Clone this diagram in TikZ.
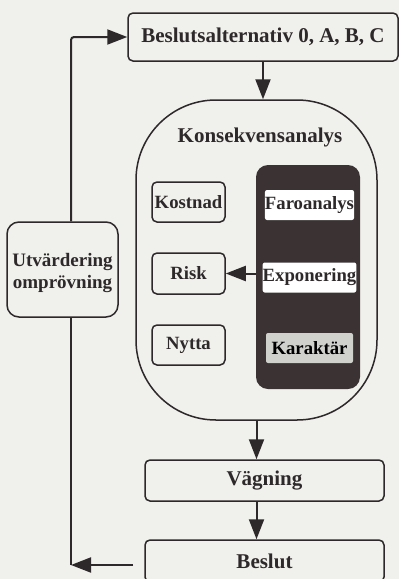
\documentclass[tikz,border=0pt]{standalone}
\usepackage{fontspec}
\setmainfont{Liberation Serif}
\usetikzlibrary{arrows.meta}
\definecolor{bg}{RGB}{240,240,236}
\definecolor{ink}{RGB}{45,40,41}
\definecolor{panelc}{RGB}{58,50,51}
\definecolor{karfill}{RGB}{208,208,204}
\begin{document}
\begin{tikzpicture}[x=1pt,y=-1pt,
  every node/.style={font=\bfseries\fontsize{21}{23}\selectfont, text=ink, inner sep=0pt, align=center},
  bigbox/.style={draw=ink, line width=1.5pt, rounded corners=5pt},
  smallfont/.style={font=\bfseries\fontsize{18.7}{21}\selectfont},
  smallbox/.style={bigbox, smallfont, minimum width=73pt},
  innerbox/.style={smallfont, minimum width=87pt, minimum height=30pt, rounded corners=2pt},
  arr/.style={draw=ink, line width=2pt, -{Triangle[length=20pt,width=15pt]}},
  conn/.style={draw=ink, line width=2pt}]
\fill[bg] (0,0) rectangle (399,579);
\useasboundingbox (0,0) rectangle (399,579);

% top box
\node[bigbox, minimum width=270pt, minimum height=48pt] (top) at (263,37) {Beslutsalternativ 0, A, B, C};

% capsule
\node[draw=ink, line width=1.5pt, rounded corners=80pt, minimum width=241pt, minimum height=320pt] (cap) at (256.5,260) {};
\node (title) at (260,137) {Konsekvensanalys};

% dark panel
\node[fill=panelc, rounded corners=12pt, minimum width=104pt, minimum height=224pt] (panel) at (308,277) {};
\node[innerbox, fill=white] (faro) at (309.5,205) {Faroanalys};
\node[innerbox, fill=white] (expo) at (309.5,277.5) {Exponering};
\node[innerbox, fill=karfill] (karbox) at (309.5,348) {};
\node[smallfont, text=black] (kar) at (karbox) {Karaktär};

% left inner boxes
\node[smallbox, minimum height=40pt] (kost) at (188.5,202) {Kostnad};
\node[smallbox, minimum height=41pt] (risk) at (188.5,273.5) {Risk};
\node[smallbox, minimum height=40pt] (nytta) at (188.5,345) {Nytta};

% evaluation box
\node[bigbox, rounded corners=12pt, minimum width=111pt, minimum height=95pt] (utv) at (62.5,269.5) {};
\node[font=\bfseries\fontsize{19}{22}\selectfont] (utvt) at (62.5,273) {Utvärdering\\omprövning};

% lower boxes
\node[bigbox, minimum width=239pt, minimum height=41pt] (vag) at (264.5,480.5) {Vägning};
\node[bigbox, minimum width=239pt, minimum height=42pt] (bes) at (264.5,561) {Beslut};

% connectors
\coordinate (b0) at (133,565);
\coordinate (b1) at (71,565);
\draw[arr] (top.south) -- (top.south |- cap.north);
\draw[arr] (cap.south) -- (cap.south |- vag.north);
\draw[arr] (cap.south |- vag.south) -- (cap.south |- bes.north);
\draw[arr] (risk.east -| panel.west) -- (risk.east);
\draw[arr] (b0) -- (b1);
\draw[conn] (b1) -- (b1 |- utv.south);
\draw[arr, rounded corners=3pt] (b1 |- utv.north) -- (b1 |- top.west) -- (top.west);
\end{tikzpicture}
\end{document}
